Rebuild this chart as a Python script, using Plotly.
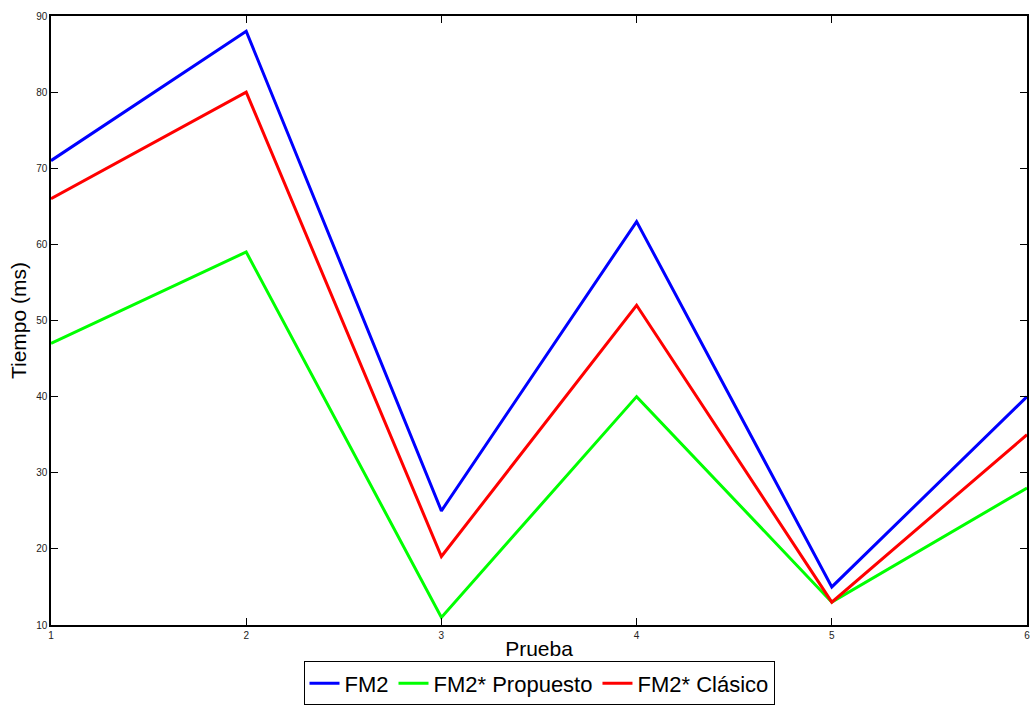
import plotly.graph_objects as go

pruebas = [1, 2, 3, 4, 5, 6]
fm2 = [71, 88, 25, 63, 15, 40]
fm2_propuesto = [47, 59, 11, 40, 13, 28]
fm2_clasico = [66, 80, 19, 52, 13, 35]

FONT = "Liberation Sans, Arial"

fig = go.Figure()
fig.add_trace(go.Scatter(x=pruebas, y=fm2, mode="lines", name="FM2",
                         line=dict(color="#0000FF", width=3)))
fig.add_trace(go.Scatter(x=pruebas, y=fm2_propuesto, mode="lines", name="FM2* Propuesto",
                         line=dict(color="#00FF00", width=3)))
fig.add_trace(go.Scatter(x=pruebas, y=fm2_clasico, mode="lines", name="FM2* Clásico",
                         line=dict(color="#FF0000", width=3)))

axis_common = dict(showline=True, linecolor="black", linewidth=1.5, mirror="ticks",
                   ticks="inside", ticklen=7, tickcolor="black", showgrid=False,
                   zeroline=False, tickfont=dict(family=FONT, size=10, color="#222"))

fig.update_xaxes(range=[1, 6], tickvals=pruebas, ticktext=[str(p) for p in pruebas],
                 title=dict(text="Prueba", font=dict(family=FONT, size=21, color="black"),
                            standoff=2), **axis_common)
fig.update_yaxes(range=[10, 90], tickvals=[10, 20, 30, 40, 50, 60, 70, 80, 90],
                 title=dict(text="Tiempo (ms)", font=dict(family=FONT, size=21, color="black"),
                            standoff=4), **axis_common)

fig.update_layout(
    width=1032, height=707,
    margin=dict(l=51, r=5, t=16, b=82, autoexpand=False),
    plot_bgcolor="white", paper_bgcolor="white",
    showlegend=True,
    legend=dict(orientation="h", x=0.5, xanchor="center", y=-0.132, yanchor="bottom",
                bordercolor="black", borderwidth=1, bgcolor="white",
                font=dict(family=FONT, size=22, color="black"),
                itemwidth=30, tracegroupgap=0),
)

fig.write_html("out.html")
